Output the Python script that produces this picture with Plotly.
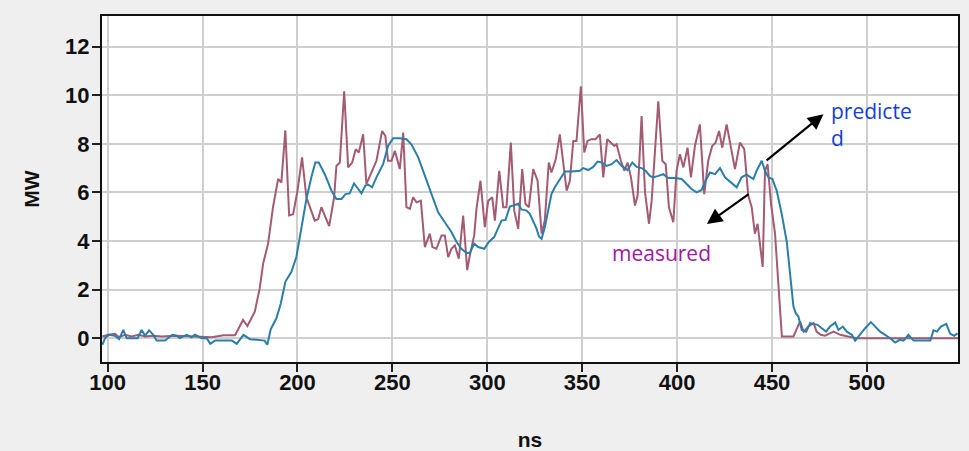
import plotly.graph_objects as go

# ---- data ----
measured_ns = [97.2, 100.3, 103.8, 106, 109.1, 112.6, 116.2, 119.7, 124, 128.4, 135.5, 142.5, 149.5, 154.8, 161, 167.1,
               171.3, 173.6, 177.5, 180.1, 181.9, 184.5, 187.1, 189.8, 191.5, 193.6, 195.6, 197.7, 200, 202.4, 204.7,
               207, 209.1, 210.9, 212.6, 214.7, 216.7, 219.3, 220.5, 222.3, 224.6, 226.7, 228.8, 230.7, 232.3, 234.6,
               236.3, 239.3, 241.6, 244.6, 246.3, 247.7, 249.5, 251.3, 253.9, 255.7, 257.4, 259.2, 260.9, 262.7, 265,
               267.1, 269.7, 271.1, 273.2, 275.9, 277.6, 279.4, 281.1, 282.9, 285, 287.3, 289.4, 290.8, 293.1, 294.3,
               296.4, 298.7, 300.5, 302.6, 304, 306.3, 308.4, 310.1, 312.4, 314.2, 316.3, 318.4, 320.1, 321.9, 324.2,
               326.5, 328.6, 330.3, 332.4, 333.8, 336.1, 338.2, 340, 341.8, 343.5, 345.3, 347, 349.3, 351.1, 352.8,
               354.9, 357, 359.3, 361.1, 363.2, 365.1, 366.9, 368.1, 370.4, 372.2, 373.9, 375.7, 377.8, 379.2, 381.3,
               383.1, 385.2, 386.6, 388.3, 390.1, 392.2, 394.0, 395.7, 398, 399.7, 401.5, 403.3, 405.5, 407.3, 409.4,
               412.0, 414.3, 416.4, 418.5, 420.3, 422.1, 423.8, 426.1, 428.4, 430.5, 433.1, 435.4, 437.5, 439.3, 441,
               442.4, 445.1, 446.3, 447.7, 449.5, 451.6, 453.3, 455.2, 461.3, 464.8, 466.6, 469.2, 471.9, 473.5, 475.7,
               478, 482.4, 486, 490, 494.7, 548]
measured_mw = [0.07, 0.14, 0.18, 0.04, 0.14, 0.07, 0.14, 0.07, 0.1, 0.07, 0.1, 0.07, 0.07, 0.04, 0.12, 0.12,
               0.75, 0.5, 1.09, 2.05, 3.07, 3.89, 5.39, 6.55, 6.41, 8.55, 5.05, 5.1, 6.07, 7.44, 5.8,
               5.3, 4.84, 4.9, 5.39, 4.98, 4.61, 5.8, 7.09, 7.23, 10.16, 7.03, 7.23, 7.78, 7.64, 8.39,
               6.34, 6.89, 7.3, 8.53, 8.32, 7.3, 7.3, 7.71, 6.96, 8.46, 5.39, 5.32, 5.8, 5.59, 5.66,
               3.75, 4.3, 3.75, 3.68, 4.23, 4.23, 3.34, 3.68, 3.82, 3.27, 5.05, 2.8, 3.41, 4.23, 5.32,
               6.48, 4.57, 5.66, 5.8, 4.84, 6.89, 5.39, 5.39, 8.05, 5.25, 4.5, 6.96, 5.53, 5.39, 6.96,
               6.48, 4.3, 4.84, 7.23, 6.82, 7.37, 8.39, 7.16, 6.07, 6.48, 8.12, 8.12, 10.37, 7.64, 8.12,
               8.19, 8.19, 8.39, 6.62, 8.19, 8.05, 7.91, 7.98, 7.3, 6.89, 7.23, 6.62, 5.46, 5.87, 9.14,
               6.0, 4.71, 5.66, 7.84, 9.75, 7.3, 7.16, 5.39, 4.77, 6.89, 7.57, 7.03, 7.84, 6.62, 7.91,
               8.8, 5.93, 7.3, 7.91, 8.05, 8.53, 7.84, 8.8, 7.84, 6.96, 8.05, 7.78, 5.87, 5.39, 4.3,
               4.71, 2.93, 6.89, 7.16, 5.53, 4.3, 2.11, 0.07, 0.07, 0.69, 0.27, 0.48, 0.62, 0.27, 0.14,
               0.1, 0.27, 0.14, 0.07, 0.0, 0.0]

predicted_ns = [97.2, 98.6, 100.7, 103.8, 106, 108.2, 110, 113, 115.8, 117.9, 119.7, 121.8, 124, 125.8, 130.2,
                134.1, 136.3, 138, 141.6, 144.2, 146, 149.5, 152.2, 154, 156.6, 161, 165.4, 168, 171.5, 175,
                179.2, 182.7, 184.1, 185.9, 188.9, 191.2, 193.6, 196.8, 199.4, 202.1, 204.7, 207.3, 209.4, 211.2,
                214.4, 217.9, 220.5, 223.2, 225.3, 227.5, 229.8, 232, 233.7, 235.8, 237.2, 239.3, 241.6, 245.1,
                247.7, 250.4, 253.9, 257.4, 260, 263.6, 266.2, 268.8, 271.5, 274.1, 277.6, 281.1, 283.8, 286.4,
                289.0, 290.8, 293.1, 295.2, 298.4, 300.8, 303.6, 305.7, 307.5, 309.6, 311.9, 313.6, 316.3, 318,
                320.7, 322.4, 324.2, 326, 327.2, 328.6, 330.3, 332.1, 333.8, 335.6, 338.2, 340.9, 344.4, 347,
                348.8, 350.5, 353.2, 355.8, 358.1, 360.2, 362.8, 365.5, 368.1, 370.8, 373.9, 376.4, 378.7, 381.3,
                383.4, 385.7, 387.4, 390.1, 392.7, 395.3, 398.9, 402.4, 405, 407.6, 410.3, 412.9, 415.0, 417.3,
                420, 422.6, 425.2, 428.4, 431.4, 434, 436.6, 440.2, 441.9, 444.6, 446.3, 448.1, 450.2, 452.5,
                455.1, 457.8, 459.6, 461.3, 462.5, 463.9, 465.7, 468, 470.1, 471.9, 474, 476.2, 478.5, 480.6,
                483.3, 485, 487.3, 489.4, 492.1, 493.8, 496.1, 499.1, 502.1, 504.4, 507, 509.6, 512.3, 514.9,
                517.2, 519.3, 521.9, 524.6, 528.1, 533.4, 535.1, 536.9, 539, 541.8, 543.9, 546, 547.8]
predicted_mw = [-0.27, 0.0, 0.14, 0.1, -0.04, 0.34, 0.0, 0.0, 0.0, 0.34, 0.1, 0.32, 0.14, -0.1, -0.1,
                0.14, 0.1, 0.0, 0.14, 0.04, 0.14, 0.0, 0.0, -0.23, -0.1, -0.1, -0.1, -0.23, 0.14, -0.04,
                -0.07, -0.1, -0.27, 0.37, 0.82, 1.43, 2.32, 2.73, 3.34, 4.5, 5.73, 6.62, 7.23, 7.23,
                6.75, 6.07, 5.73, 5.73, 5.93, 5.96, 6.37, 6.14, 5.96, 6.28, 6.32, 6.21, 6.62, 7.16,
                7.91, 8.23, 8.23, 8.19, 7.98, 7.44, 6.89, 6.34, 5.8, 5.18, 4.77, 4.37, 3.96, 3.68,
                3.51, 3.51, 3.89, 3.75, 3.68, 3.96, 4.16, 4.57, 4.84, 4.87, 5.42, 5.46, 5.53, 5.3,
                5.25, 5.12, 4.84, 4.5, 4.19, 4.09, 4.57, 5.25, 5.93, 6.21, 6.55, 6.86, 6.86, 6.89,
                6.89, 7.0, 6.92, 7.05, 7.27, 7.23, 7.09, 7.16, 7.33, 7.09, 6.92, 7.23, 7.05, 7.0,
                6.89, 6.68, 6.62, 6.68, 6.75, 6.59, 6.59, 6.55, 6.34, 6.14, 6.0, 6.1, 6.48, 6.82,
                6.75, 7.0, 6.62, 6.41, 6.21, 6.62, 6.73, 6.55, 6.89, 7.3, 6.89, 6.62, 6.55, 6.07,
                5.12, 3.96, 2.67, 1.3, 1.03, 0.89, 0.34, 0.27, 0.62, 0.59, 0.55, 0.41, 0.27, 0.48,
                0.64, 0.34, 0.48, 0.27, 0.14, -0.1, 0.14, 0.41, 0.66, 0.48, 0.27, 0.14, 0.0, -0.18,
                -0.07, -0.1, 0.14, -0.1, -0.1, -0.1, 0.32, 0.27, 0.48, 0.59, 0.18, 0.1, 0.2]

x_ticks = [100, 150, 200, 250, 300, 350, 400, 450, 500]
y_ticks = [0, 2, 4, 6, 8, 10, 12]
x_title = "ns"
y_title = "MW"

fig = go.Figure()
fig.add_trace(go.Scatter(x=measured_ns, y=measured_mw, mode="lines", name="measured",
                         line=dict(color="#a45a74", width=2)))
fig.add_trace(go.Scatter(x=predicted_ns, y=predicted_mw, mode="lines", name="predicted",
                         line=dict(color="#2a7fa8", width=2)))

tick_font = dict(family="Liberation Sans, Arial", size=22, color="#111111", weight="bold")
title_font = dict(family="Liberation Sans, Arial", size=21, color="#111111", weight="bold")

fig.update_layout(
    width=969, height=451,
    margin=dict(l=102, r=11, t=16, b=89),
    paper_bgcolor="#efefef",
    plot_bgcolor="#ffffff",
    showlegend=False,
    xaxis=dict(range=[97, 548], tickvals=x_ticks, ticks="outside", ticklen=8, tickwidth=1.5,
               tickcolor="#222", tickfont=tick_font, showgrid=True, gridcolor="#cfcfcf", gridwidth=1.5,
               zeroline=False, showline=True, linecolor="#111", linewidth=2, mirror=True, automargin=False,
               ticklabelstandoff=-8,
               title=dict(text=x_title, font=title_font, standoff=38)),
    yaxis=dict(range=[-0.98, 13.26], tickvals=y_ticks, ticks="outside", ticklen=8, tickwidth=1.5,
               tickcolor="#222", tickfont=tick_font, showgrid=True, gridcolor="#cfcfcf", gridwidth=1.5,
               zeroline=False, showline=True, linecolor="#111", linewidth=2, mirror=True, automargin=False,
               ticklabelstandoff=-2,
               title=dict(text=y_title, font=title_font, standoff=20)),
)

ann_font = "Open Sans, Noto Sans, sans-serif"
fig.add_annotation(x=480.1, y=8.78, xref="x", yref="y", text="predicte<br>d", showarrow=False,
                   xanchor="left", yanchor="middle", align="left",
                   font=dict(family=ann_font, size=21, color="#1240d8"))
fig.add_annotation(x=391.6, y=3.5, xref="x", yref="y", text="measured", showarrow=False,
                   xanchor="center", yanchor="middle",
                   font=dict(family=ann_font, size=21, color="#a0189e"))
fig.add_annotation(x=477.1, y=9.22, ax=446.4, ay=7.27, xref="x", yref="y", axref="x", ayref="y",
                   text="", showarrow=True, arrowhead=2, arrowsize=1.4, arrowwidth=2.2, arrowcolor="#000")
fig.add_annotation(x=415.7, y=4.70, ax=438.5, ay=5.97, xref="x", yref="y", axref="x", ayref="y",
                   text="", showarrow=True, arrowhead=2, arrowsize=1.4, arrowwidth=2.2, arrowcolor="#000")

fig.write_html("out.html", config={"displayModeBar": False},
               post_script="document.body.style.margin='0';document.body.style.padding='0';"
                           "document.body.style.background='#efefef';")
